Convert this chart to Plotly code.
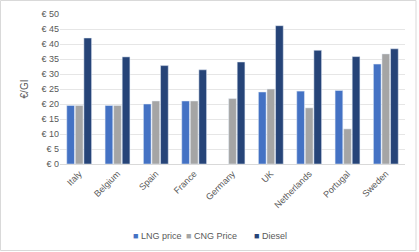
import plotly.graph_objects as go

countries = ["Italy", "Belgium", "Spain", "France", "Germany", "UK", "Netherlands", "Portugal", "Sweden"]
lng_price = [19.5, 19.5, 20.0, 21.0, None, 24.0, 24.3, 24.5, 33.3]
cng_price = [19.5, 19.5, 21.0, 21.0, 21.8, 25.0, 18.7, 11.7, 36.7]
diesel = [42.0, 35.7, 32.8, 31.4, 34.0, 46.1, 37.9, 35.8, 38.4]
series_names = ["LNG price", "CNG Price", "Diesel"]
series_colors = ["#4472C4", "#A5A5A5", "#264478"]
tick_vals = [0, 5, 10, 15, 20, 25, 30, 35, 40, 45, 50]
tick_text = ["€ %d" % v for v in tick_vals]

FAM = "Liberation Sans, Arial"
font = dict(family=FAM, size=9, color="#595959")

W, H = 419, 252
L, R, T, B = 60, 14, 14, 88
pw, ph = W - L - R, H - T - B

def px(x):
    return (x - L) / pw

def py(y):
    return (H - B - y) / ph

fig = go.Figure()
for name, vals, col in zip(series_names, [lng_price, cng_price, diesel], series_colors):
    fig.add_bar(x=countries, y=vals, name=name, marker=dict(color=col), showlegend=False)

legend_x = [131, 184, 252]
annotations = [
    dict(xref="paper", yref="paper", x=px(xx), y=py(236), xanchor="left", yanchor="middle",
         showarrow=False, font=font,
         text="<span style='color:%s'>■</span> %s" % (col, name))
    for xx, name, col in zip(legend_x, series_names, series_colors)
]

fig.update_layout(
    width=W, height=H,
    margin=dict(l=L, r=R, t=T, b=B),
    paper_bgcolor="white", plot_bgcolor="white",
    font=font,
    barmode="group", bargap=0.33, bargroupgap=0.1,
    showlegend=False,
    xaxis=dict(tickangle=-45, showgrid=False, showline=True, linecolor="#D9D9D9",
               ticks="", tickfont=font, automargin=False),
    yaxis=dict(range=[0, 50], tickvals=tick_vals, ticktext=tick_text,
               showgrid=True, gridcolor="#E6E6E6", gridwidth=1, zeroline=False,
               ticks="", tickfont=font, automargin=False,
               title=dict(text="€/GI", font=dict(family=FAM, size=10, color="#595959"), standoff=10)),
    annotations=annotations,
    shapes=[dict(type="rect", xref="paper", yref="paper",
                 x0=px(0.5), x1=px(416), y0=py(250.5), y1=py(0.5),
                 line=dict(color="#D9D9D9", width=1))],
)

fig.write_html("out.html", config={"displayModeBar": False},
               post_script="document.body.style.margin='0px';")
